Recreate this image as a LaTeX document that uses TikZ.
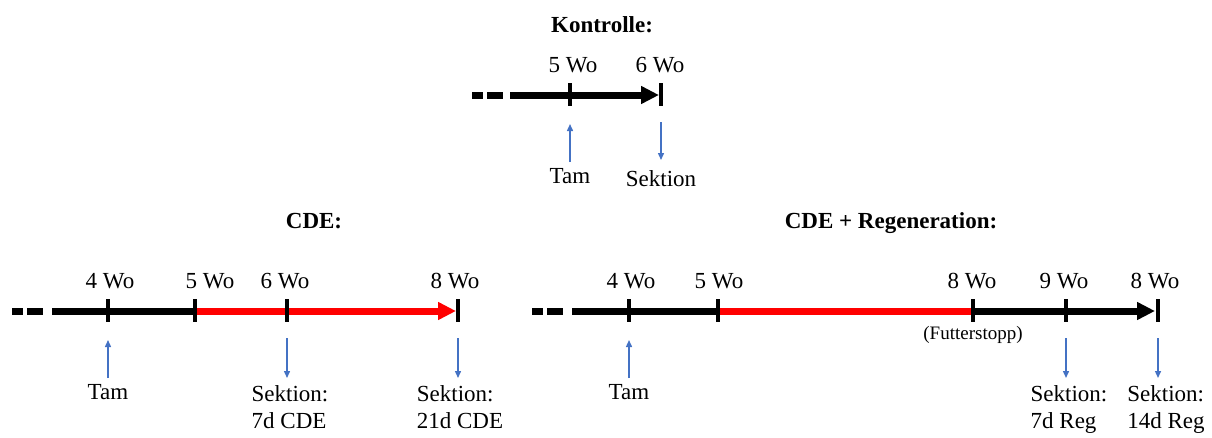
\documentclass[tikz,border=0pt]{standalone}
\usepackage{fontspec}
\setmainfont{Liberation Serif}
\usetikzlibrary{arrows.meta,calc}
\definecolor{pfeilblau}{RGB}{68,114,196}
\definecolor{cderot}{RGB}{255,0,0}
\begin{document}
\begin{tikzpicture}[x=1pt,y=-1pt,line join=miter,line cap=butt,font=\fontsize{23}{27}\selectfont]
	\tikzset{zeit/.style={line width=7pt},
		kopf/.style={-{Triangle[length=18pt,width=17pt]}},
		strich/.style={line width=3.5pt},
		pfeil/.style={pfeilblau,line width=1.4pt,-{Triangle[length=7pt,width=6pt]}},
		titel/.style={font=\fontsize{23}{27}\selectfont\bfseries,anchor=base},
		wo/.style={anchor=base}}
	\useasboundingbox (0,0) rectangle (1212,437);
	\def \yk{95} \def \yc{311}
	\foreach \n/\x/\y in {k5/570/\yk,k6/661/\yk,c4/108/\yc,c5/195/\yc,c6/287/\yc,c8/458/\yc,r4/629/\yc,r5/718/\yc,r8/973/\yc,r9/1066/\yc,re/1158/\yc} \coordinate (\n) at (\x,\y);
	\node[titel] (tK) at (602,32) {Kontrolle:};
	\node[titel] (tC) at (314,228) {CDE:};
	\node[titel] (tR) at (891,228) {CDE + Regeneration:};
	\foreach \x/\y in {472/\yk,12/\yc,532/\yc} \draw[zeit] (\x,\y) -- ++(11,0) ++(4,0) -- ++(16,0);
	\draw[zeit] (510,\yk) -- (k5);
	\draw[zeit,kopf] (k5) -- ($(k6)+(-2,0)$);
	\draw[zeit] (52,\yc) -- (c5);
	\draw[zeit,kopf,cderot] (c5) -- ($(c8)+(-2,0)$);
	\draw[zeit] (572,\yc) -- (r5);
	\draw[zeit,cderot] (r5) -- (r8);
	\draw[zeit,kopf] (r8) -- ($(re)+(-3,0)$);
	\foreach \n in {k5,k6,c4,c5,c6,c8,r4,r5,r8,r9,re} \draw[strich] ($(\n)+(0,-12)$) -- ($(\n)+(0,11)$);
	\foreach \n/\t/\dx in {k5/5/3,k6/6/-1,c4/4/2,c5/5/15,c6/6/-2,c8/8/-3,r4/4/2,r5/5/1,r8/8/-1,r9/9/-2,re/8/-3}
		\node[wo] (w\n) at ($(\n)+(\dx,-23)$) {\t\ Wo};
	\node[anchor=base,font=\fontsize{19}{22}\selectfont] (fs) at ($(r8)+(0,28)$) {(Futterstopp)};
	\foreach \n/\m in {k5/tamK,c4/tamC,r4/tamR}{
		\node[wo] (\m) at ($(\n)+(0,88)$) {Tam};
		\draw[pfeil] ($(\n)+(0,67)$) -- ($(\n)+(0,29)$);
	}
	\draw[pfeil] ($(k6)+(0,27)$) -- ($(k6)+(0,65)$);
	\node[wo] (sK) at ($(k6)+(0,91)$) {Sektion};
	\foreach \n/\t/\dx in {c6/7d CDE/3,c8/21d CDE/2,r9/7d Reg/3,re/14d Reg/8}{
		\draw[pfeil] ($(\n)+(0,27)$) -- ($(\n)+(0,67)$);
		\node[anchor=north,align=left] (s\n) at ($(\n)+(\dx,71)$) {Sektion:\\\t};
	}
\end{tikzpicture}
\end{document}
